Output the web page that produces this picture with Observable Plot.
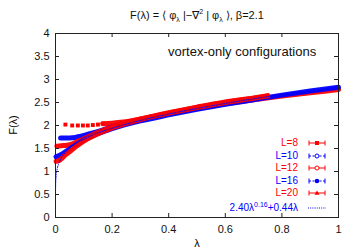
<!DOCTYPE html>
<html><head><meta charset="utf-8">
<script src="https://cdn.jsdelivr.net/npm/d3@7"></script>
<script src="https://cdn.jsdelivr.net/npm/@observablehq/plot@0.6"></script>
<style>
body{margin:0;background:#fff;font-family:"Liberation Sans",Arial,sans-serif;}
#wrap{position:relative;width:357px;height:250px;overflow:hidden;}
.ov{position:absolute;white-space:nowrap;line-height:12px;}
#title{left:0;width:394px;top:9px;text-align:center;font-size:11px;color:#111;}
#ylab{left:-2px;top:119px;font-size:11px;transform:rotate(-90deg);transform-origin:center;width:30px;text-align:center;}
#xlab{left:187px;width:20px;text-align:center;top:237px;font-size:11px;}
#note{left:168px;top:45px;font-size:13px;line-height:14px;color:#111;}
.leg{right:59px;font-size:10px;text-align:right;}
sub,sup{font-size:7px;line-height:0;}
</style></head>
<body><div id="wrap"></div>
<script>
// ---- data ----
const xTicks = [0, 0.2, 0.4, 0.6, 0.8, 1];
const xTickLabels = ["0", "0.2", "0.4", "0.6", "0.8", "1"];
const yTicks = [0, 0.5, 1, 1.5, 2, 2.5, 3, 3.5, 4];
const yTickLabels = ["0", "0.5", "1", "1.5", "2", "2.5", "3", "3.5", "4"];

// L=8 : sparse squares at low lambda, then joins the band
const lam8sq = [0.035, 0.059, 0.079, 0.097, 0.114, 0.132, 0.150, 0.167];
const F8sq   = [2.02, 2.00, 2.00, 2.00, 2.00, 2.01, 2.02, 2.04];
const lam8 = [0.167, 0.2, 0.23, 0.3, 0.4, 0.5, 0.6, 0.7, 0.8, 0.9, 1.0];
const F8   = [2.04, 2.05, 2.07, 2.14, 2.26, 2.37, 2.47, 2.56, 2.64, 2.71, 2.78];
// L=10
const lam10 = [0.018, 0.03, 0.05, 0.07, 0.09, 0.12, 0.16, 0.2, 0.25, 0.32];
const F10   = [1.73, 1.73, 1.73, 1.74, 1.77, 1.82, 1.89, 1.97, 2.05, 2.14];
// L=12
const lam12 = [0.005, 0.02, 0.04, 0.06, 0.08, 0.1, 0.15, 0.2, 0.3, 0.4, 0.5, 0.6, 0.7, 0.75];
const F12   = [1.55, 1.56, 1.57, 1.60, 1.66, 1.71, 1.85, 1.97, 2.14, 2.28, 2.40, 2.51, 2.60, 2.65];
// L=16
const lam16 = [0.002, 0.01, 0.02, 0.04, 0.06, 0.08, 0.1, 0.15, 0.2, 0.3, 0.4, 0.5, 0.6, 0.7, 0.8, 0.9, 1.0];
const F16   = [1.32, 1.34, 1.37, 1.45, 1.53, 1.61, 1.68, 1.82, 1.93, 2.10, 2.23, 2.35, 2.46, 2.56, 2.66, 2.75, 2.83];
// L=20
const lam20 = [0.002, 0.01, 0.02, 0.035, 0.05, 0.07, 0.1, 0.15, 0.2, 0.3, 0.4, 0.5, 0.6, 0.7, 0.75];
const F20   = [1.22, 1.23, 1.27, 1.36, 1.43, 1.53, 1.66, 1.82, 1.95, 2.13, 2.27, 2.39, 2.50, 2.59, 2.64];
// fit 2.40 lambda^0.16 + 0.44 lambda
const lamFit = [0, 0.00001, 0.0001, 0.001, 0.003, 0.006, 0.01, 0.02, 0.04, 0.07, 0.1, 0.15, 0.2, 0.3, 0.4, 0.5, 0.6, 0.7, 0.8, 0.9, 1.0];
const FFit   = [0, 0.38, 0.55, 0.80, 0.95, 1.06, 1.15, 1.29, 1.45, 1.60, 1.70, 1.84, 1.94, 2.11, 2.25, 2.37, 2.48, 2.58, 2.67, 2.76, 2.84];

const zip = (a, b) => a.map((x, i) => ({x, y: b[i]}));
const RED = "#ff0000", BLUE = "#0000ff";
const band = (a, b, c) => Plot.line(zip(a, b), {x: "x", y: "y", stroke: c, strokeWidth: 5, curve: "monotone-x", strokeOpacity: 0.95});

const tx = 0.0141, ty = 0.087;
const plot = Plot.plot({
  width: 357, height: 250,
  marginLeft: 55, marginRight: 19, marginTop: 33, marginBottom: 33,
  style: {fontFamily: "Liberation Sans, Arial, sans-serif", fontSize: "11px", color: "#111", background: "white"},
  x: {domain: [0, 1]},
  y: {domain: [0, 4]},
  marks: [
    Plot.axisX(xTicks, {tickSize: 0, tickPadding: 8, tickFormat: (d, i) => xTickLabels[i], label: null}),
    Plot.axisY(yTicks, {tickSize: 0, tickPadding: 6, tickFormat: (d, i) => yTickLabels[i], label: null}),
    band(lam8, F8, RED),
    Plot.dot(zip(lam8sq, F8sq), {x: "x", y: "y", symbol: "square", r: 2.2, fill: RED}),
    band(lam10, F10, BLUE),
    band(lam12, F12, RED),
    band(lam16, F16, BLUE),
    band(lam20, F20, RED),
    Plot.line(zip(lamFit, FFit), {x: "x", y: "y", stroke: BLUE, strokeWidth: 1, strokeDasharray: "1,1.5", curve: "monotone-x"}),
    Plot.ruleX(xTicks, {x: d => d, y1: 0, y2: ty, stroke: "#222"}),
    Plot.ruleX(xTicks, {x: d => d, y1: 4 - ty, y2: 4, stroke: "#222"}),
    Plot.ruleY(yTicks, {y: d => d, x1: 0, x2: tx, stroke: "#222"}),
    Plot.ruleY(yTicks, {y: d => d, x1: 1 - tx, x2: 1, stroke: "#222"}),
    Plot.frame({stroke: "#222"})
  ]
});
const wrap = document.getElementById("wrap");
wrap.appendChild(plot);

const add = (id, cls, html, style) => {
  const d = document.createElement("div");
  if (id) d.id = id;
  d.className = "ov " + (cls || "");
  d.innerHTML = html;
  if (style) Object.assign(d.style, style);
  wrap.appendChild(d);
  return d;
};
add("title", "", "F(λ) = ⟨ φ<sub>λ</sub> |−∇<sup>2</sup> | φ<sub>λ</sub> ⟩, β=2.1");
add("ylab", "", "F(λ)");
add("xlab", "", "λ");
add("note", "", "vortex-only configurations");

const legNames = ["L=8", "L=10", "L=12", "L=16", "L=20"];
const legColors = [RED, BLUE, RED, BLUE, RED];
const legTops = [137, 150, 162, 175, 187];
legNames.forEach((n, i) => add(null, "leg", n, {top: legTops[i] + "px", color: legColors[i]}));
add(null, "leg", "2.40λ<sup>0.16</sup>+0.44λ", {top: "202px", color: BLUE});

// legend keys
const ns = "http://www.w3.org/2000/svg";
const ks = document.createElementNS(ns, "svg");
ks.setAttribute("width", 40); ks.setAttribute("height", 100);
Object.assign(ks.style, {position: "absolute", left: "300px", top: "130px"});
wrap.appendChild(ks);
const el = (t, a) => { const e = document.createElementNS(ns, t); for (const k in a) e.setAttribute(k, a[k]); ks.appendChild(e); return e; };
const keyY = [13, 26, 38, 51, 63];
const keySym = ["sq", "oc", "oc", "fc", "tri"];
keyY.forEach((y, i) => {
  const c = legColors[i];
  const dash = c === BLUE ? "2,1.5" : null;
  const ln = el("line", {x1: 9, x2: 25, y1: y, y2: y, stroke: c, "stroke-width": 1});
  if (dash) ln.setAttribute("stroke-dasharray", dash);
  el("line", {x1: 9, x2: 9, y1: y - 2.5, y2: y + 2.5, stroke: c});
  el("line", {x1: 25, x2: 25, y1: y - 2.5, y2: y + 2.5, stroke: c});
  const s = keySym[i];
  if (s === "sq") el("rect", {x: 15, y: y - 2, width: 4, height: 4, fill: c});
  if (s === "oc") el("circle", {cx: 17, cy: y, r: 2, fill: "white", stroke: c});
  if (s === "fc") el("circle", {cx: 17, cy: y, r: 2.3, fill: c});
  if (s === "tri") el("path", {d: `M17,${y - 2.5}L19.5,${y + 1.8}L14.5,${y + 1.8}Z`, fill: c});
});
el("line", {x1: 8, x2: 26, y1: 78, y2: 78, stroke: BLUE, "stroke-dasharray": "1,1.2"});
</script></body></html>
